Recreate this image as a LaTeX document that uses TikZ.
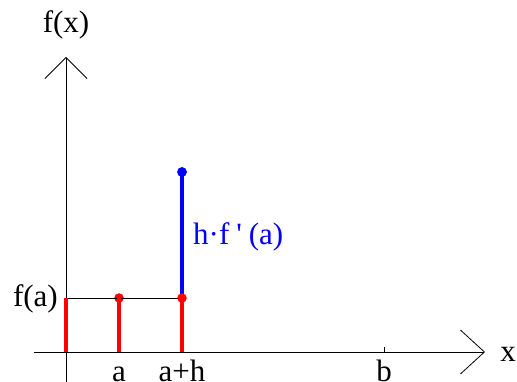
\documentclass[tikz,border=0pt]{standalone}
\usepackage{fontspec}
\setmainfont{Liberation Serif}
\usetikzlibrary{arrows.meta, positioning}

\begin{document}
\begin{tikzpicture}[x=1pt, y=-1pt,
    axis/.style={draw=black, line width=0.8pt},
    redbar/.style={draw=red, line width=3.2pt},
    bluebar/.style={draw=blue, line width=3.2pt},
    dotred/.style={circle, fill=red, inner sep=0pt, minimum size=9.5pt},
    dotblue/.style={circle, fill=blue, inner sep=0pt, minimum size=9.5pt},
    lbl/.style={font=\fontsize{31}{34}\selectfont, inner sep=0pt}]
  \useasboundingbox (0,0) rectangle (517,382);

  % axes
  \coordinate (O) at (66,352);
  \coordinate (xstart) at (34,352);
  \coordinate (xend) at (485,352);
  \coordinate (ystart) at (66,400);
  \coordinate (yend) at (66,57);
  \draw[axis, -{Straight Barb[length=24pt, width=44pt, line width=0.8pt]}] (xstart) -- (xend);
  \draw[axis, -{Straight Barb[length=21pt, width=42pt, line width=0.8pt]}] (ystart) -- (yend);
  \node[lbl] (xlab) at (508,354) {x};
  \node[lbl] (ylab) at (66,25) {f(x)};

  % points on the x axis
  \coordinate (A) at (119,352);
  \coordinate (AH) at (182,352);
  \coordinate (B) at (384,352);
  \draw[axis] (B) -- ++(0,-5);
  \node[lbl, anchor=base] (alab) at (119,381) {a};
  \node[lbl, anchor=base] (ahlab) at (182,381) {a+h};
  \node[lbl, anchor=base] (blab) at (384,381) {b};

  % f(a) level
  \coordinate (fa) at (66,298);
  \node[dotred] (pa) at (119,298) {};
  \coordinate (pah) at (182,298);
  \draw[axis] (fa) -- (pah);
  \node[lbl, anchor=east] (falab) at (58,299) {f(a)};

  \draw[redbar] (O) -- (fa);
  \draw[redbar] (A) -- (pa.center);
  \draw[redbar] (AH) -- (pah);

  % increment h f'(a)
  \node[dotblue] (top) at (182,172) {};
  \draw[bluebar] (pah) -- (top.center);
  \node[dotblue] at (top) {};
  \node[dotred] (pahdot) at (pah) {};
  \node[lbl, text=blue, anchor=west] (hlab) at (193,237) {h·f\hspace{7pt}\textquotesingle\hspace{7pt}(a)};
\end{tikzpicture}
\end{document}
